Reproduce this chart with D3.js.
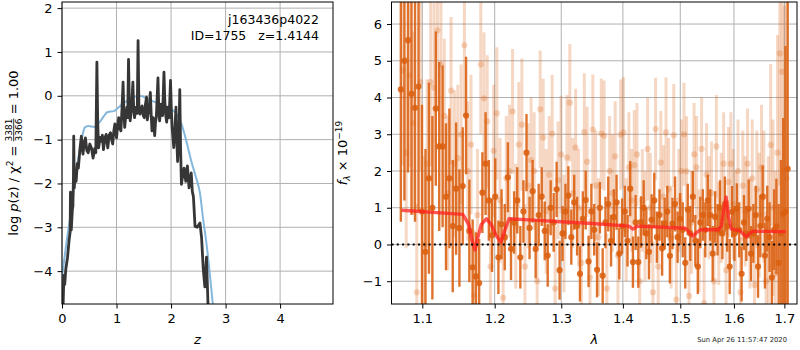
<!DOCTYPE html>
<html>
<head>
<meta charset="utf-8">
<script src="https://cdn.jsdelivr.net/npm/d3@7"></script>
<style>
body { margin: 0; background: #fff; }
svg { font-family: "DejaVu Sans", sans-serif; }
text { white-space: pre; }
</style>
</head>
<body>
<svg id="fig" width="800" height="350"></svg>
<script>
// ---- p(z) panel ----
const pzZ = [0.02,0.035,0.05,0.07,0.10,0.13,0.15,0.155,0.165,0.17,0.19,0.20,0.21,0.215,0.225,0.245,0.26,0.28,0.30,0.33,
  0.355,0.37,0.385,0.41,0.43,0.455,0.48,0.51,0.54,0.57,0.60,0.62,0.64,0.655,0.67,0.70,0.72,0.74,0.76,0.79,
  0.81,0.84,0.865,0.89,0.91,0.93,0.95,0.97,1.00,1.02,1.04,1.06,1.08,1.10,1.12,1.135,1.15,1.17,1.19,1.205,
  1.22,1.235,1.25,1.275,1.30,1.315,1.33,1.345,1.36,1.38,1.395,1.41,1.43,1.45,1.47,1.49,1.51,1.53,1.55,1.565,
  1.58,1.60,1.62,1.635,1.65,1.675,1.70,1.715,1.73,1.76,1.775,1.79,1.82,1.845,1.87,1.885,1.90,1.92,1.94,1.965,
  1.99,2.005,2.02,2.05,2.07,2.09,2.105,2.12,2.145,2.16,2.175,2.19,2.215,2.24,2.27,2.30,2.33,2.37,2.39,2.41,
  2.44,2.48,2.53,2.56,2.59,2.62,2.65,2.68];
const pzLog = [-4.8,-4.1,-4.3,-3.95,-3.7,-3.3,-3.1,-2.2,-2.6,-3.06,-2.6,-2.52,-1.83,-0.92,-2.1,-1.7,-1.95,-1.55,-1.65,-1.2,
  -0.92,-1.2,-1.33,-1.05,-0.96,-1.25,-1.3,-1.1,-1.19,-1.42,-1.2,-1.3,0.77,-0.6,-1.19,-0.95,-1.04,-0.9,-1.23,-0.95,
  -0.88,-1.19,-0.9,-0.84,-1.0,-1.1,-0.8,-0.64,-0.96,-0.7,-0.5,-0.75,-0.8,-0.3,0.31,-0.4,-0.72,-0.45,-0.26,-0.5,
  0.83,-0.2,-0.57,-0.3,0.31,-0.3,-0.5,-0.35,-0.26,-0.4,1.26,-0.2,-0.42,-0.3,-0.23,-0.45,-0.5,-0.2,-0.03,-0.55,
  -0.42,-0.3,0.08,-0.4,-0.8,-0.5,-0.91,-0.6,-0.49,0.41,-0.3,-0.57,-0.19,-0.45,0.54,-0.1,-0.42,-0.6,-0.26,-0.5,
  0.35,-0.3,-0.72,-1.18,-0.8,-0.26,-1.0,-1.5,-0.9,0.14,-1.2,-2.02,-1.8,-1.65,-1.95,-1.6,-2.1,-1.76,-2.18,-2.3,
  -2.98,-3.0,-2.9,-3.24,-3.94,-4.36,-3.68,-4.85];
const fitZ   = [0.0,0.08,0.17,0.23,0.29,0.355,0.42,0.48,0.59,0.69,0.84,0.95,1.05,1.21,1.425,1.61,1.86,2.1,2.19,2.28,2.37,2.45,2.53,2.59,2.65,2.71,2.77,2.8];
const fitLog = [-4.13,-3.37,-2.6,-2.02,-1.49,-1.04,-0.72,-0.69,-0.71,-0.6,-0.37,-0.35,-0.25,-0.1,0.0,-0.1,-0.22,-0.41,-0.64,-1.03,-1.49,-1.83,-2.22,-2.83,-3.37,-4.06,-4.8,-5.2];
const zTicks = [0,1,2,3,4];
const pTicks = [-4,-3,-2,-1,0,1,2];

// ---- spectrum panel ----
const lamDark = [1.0720,1.0766,1.0812,1.0858,1.0904,1.0950,1.0996,1.1042,1.1088,1.1134,
  1.1180,1.1226,1.1272,1.1318,1.1364,1.1410,1.1456,1.1502,1.1548,1.1594,
  1.1640,1.1686,1.1732,1.1778,1.1824,1.1870,1.1916,1.1962,1.2008,1.2054,
  1.2100,1.2146,1.2192,1.2238,1.2284,1.2330,1.2376,1.2422,1.2468,1.2514,
  1.2560,1.2606,1.2652,1.2698,1.2744,1.2790,1.2836,1.2882,1.2928,1.2974,
  1.3020,1.3066,1.3112,1.3158,1.3204,1.3250,1.3296,1.3342,1.3388,1.3434,
  1.3480,1.3526,1.3572,1.3618,1.3664,1.3710,1.3756,1.3802,1.3848,1.3894,
  1.3940,1.3986,1.4032,1.4078,1.4124,1.4170,1.4216,1.4262,1.4308,1.4354,
  1.4400,1.4446,1.4492,1.4538,1.4584,1.4630,1.4676,1.4722,1.4768,1.4814,
  1.4860,1.4906,1.4952,1.4998,1.5044,1.5090,1.5136,1.5182,1.5228,1.5274,
  1.5320,1.5366,1.5412,1.5458,1.5504,1.5550,1.5596,1.5642,1.5688,1.5734,
  1.5780,1.5826,1.5872,1.5918,1.5964,1.6010,1.6056,1.6102,1.6148,1.6194,
  1.6240,1.6286,1.6332,1.6378,1.6424,1.6470,1.6516,1.6562,1.6608,1.6654,
  1.6700,1.6746,1.6792,1.6838,1.6884,1.6930,1.6976,1.7022,1.7068];
const fluxDark = [4.22,5.0,5.56,4.1,3.72,4.3,0.9,-0.2,1.8,1.0,
  3.7,2.67,2.67,1.3,1.8,0.5,1.52,0.45,1.59,3.51,
  0.37,-0.62,-0.87,-1.05,1.41,2.2,1.2,0.25,1.3,-0.35,
  0.55,0.2,1.83,-0.12,0.6,1.2,-0.35,0.9,2.5,0.45,
  1.45,-0.12,0.8,1.3,0.37,-0.3,1.0,0.6,1.5,-0.7,
  0.3,0.9,1.33,0.2,1.15,0.5,-0.8,0.7,1.21,-0.46,
  0.9,0.4,-0.69,1.0,-0.85,0.6,1.1,0.1,0.75,1.15,
  -0.25,0.5,0.9,0.1,1.52,-0.48,0.6,-0.48,0.61,1.0,
  0.3,-0.2,0.67,1.2,0.2,0.8,-0.1,0.57,0.9,-0.31,
  0.57,1.1,0.2,0.7,0.4,-0.5,0.95,0.3,1.3,0.1,
  -0.6,0.6,0.8,0.4,1.2,0.8,-0.25,0.75,0.4,1.0,
  0.3,1.1,0.5,-0.6,0.89,0.3,0.97,0.4,-0.8,0.6,
  0.3,0.97,-0.25,0.3,0.8,-0.6,0.5,1.3,-0.3,0.7,
  0.2,-0.9,0.4,0.49,-0.5,0.3,0.84,0.9,2.06];
const errDark = [3.6,3.8,3.6,3.3,3.1,3.4,2.9,2.8,2.6,2.5,
  2.1,2.3,2.2,2.0,1.9,1.8,1.8,1.6,1.6,1.6,
  1.4,1.3,1.2,1.2,1.1,1.4,1.1,1.0,1.05,1.0,
  0.95,0.9,0.95,0.85,0.85,0.9,0.85,0.85,1.05,0.85,
  0.85,0.8,0.85,0.8,0.8,0.85,0.75,0.8,0.75,0.8,
  0.75,0.75,0.8,0.75,0.75,0.8,0.75,0.75,0.8,0.7,
  0.75,0.7,0.75,0.7,0.75,0.7,0.75,0.7,0.75,0.75,
  0.7,0.75,0.7,0.7,0.75,0.7,0.75,0.7,0.7,0.75,
  0.7,0.75,0.7,0.75,0.7,0.7,0.75,0.7,0.7,0.75,
  0.7,0.75,0.7,0.7,0.75,0.7,0.7,0.75,0.7,0.7,
  0.75,0.7,0.7,0.75,0.7,0.7,0.75,0.7,0.7,0.75,
  0.7,0.75,0.7,0.75,0.7,0.75,0.7,0.75,0.75,0.75,
  0.75,0.8,0.75,0.8,0.8,0.85,0.85,0.85,0.9,0.9,
  0.95,1.0,1.1,1.3,1.6,2.0,2.6,4.5,5.0];
const lamLight = [1.0743,1.0789,1.0835,1.0881,1.0927,1.0973,1.1019,1.1065,1.1111,1.1157,
  1.1203,1.1249,1.1295,1.1341,1.1387,1.1433,1.1479,1.1525,1.1571,1.1617,
  1.1663,1.1709,1.1755,1.1801,1.1847,1.1893,1.1939,1.1985,1.2031,1.2077,
  1.2123,1.2169,1.2215,1.2261,1.2307,1.2353,1.2399,1.2445,1.2491,1.2537,
  1.2583,1.2629,1.2675,1.2721,1.2767,1.2813,1.2859,1.2905,1.2951,1.2997,
  1.3043,1.3089,1.3135,1.3181,1.3227,1.3273,1.3319,1.3365,1.3411,1.3457,
  1.3503,1.3549,1.3595,1.3641,1.3687,1.3733,1.3779,1.3825,1.3871,1.3917,
  1.3963,1.4009,1.4055,1.4101,1.4147,1.4193,1.4239,1.4285,1.4331,1.4377,
  1.4423,1.4469,1.4515,1.4561,1.4607,1.4653,1.4699,1.4745,1.4791,1.4837,
  1.4883,1.4929,1.4975,1.5021,1.5067,1.5113,1.5159,1.5205,1.5251,1.5297,
  1.5343,1.5389,1.5435,1.5481,1.5527,1.5573,1.5619,1.5665,1.5711,1.5757,
  1.5803,1.5849,1.5895,1.5941,1.5987,1.6033,1.6079,1.6125,1.6171,1.6217,
  1.6263,1.6309,1.6355,1.6401,1.6447,1.6493,1.6539,1.6585,1.6631,1.6677,
  1.6723,1.6769,1.6815,1.6861,1.6907,1.6953,1.6999,1.7045];
const fluxLight = [4.74,2.5,4.6,3.3,-1.3,4.42,0.0,2.2,4.42,4.27,
  5.83,4.9,3.5,1.4,4.19,2.2,2.35,3.0,5.42,2.0,
  2.72,-1.4,0.8,4.9,3.98,3.35,-0.6,2.55,3.57,1.2,
  -1.45,1.8,2.0,3.62,0.5,2.72,3.26,-0.6,1.6,2.3,
  2.0,-1.0,3.68,2.91,0.9,1.9,3.02,-1.2,1.75,2.45,
  0.3,2.37,3.86,1.4,2.64,1.0,-0.5,3.06,2.25,-0.9,
  3.13,1.6,0.2,3.02,2.96,-1.2,2.0,1.4,2.4,-0.3,
  2.99,3.05,0.4,2.1,1.2,2.16,2.45,-1.0,1.2,0.5,
  2.6,1.0,-1.3,3.14,-0.6,2.23,1.3,3.05,1.5,0.2,
  2.97,-1.5,1.2,2.0,3.0,1.99,-1.4,0.6,2.45,2.1,
  0.1,2.6,-1.6,1.9,1.0,1.4,-1.0,2.67,0.3,1.0,
  2.2,-0.7,1.7,2.2,1.1,0.5,2.0,-1.3,1.6,0.9,
  2.2,0.3,1.8,-1.1,1.5,0.8,2.1,1.3,-1.0,0.4,
  2.71,1.0,-0.8,2.5,5.2,4.7,2.0,1.8];
const errLight = [2.6,2.6,2.5,2.5,2.4,2.4,2.4,2.3,2.3,2.3,
  2.2,2.2,2.1,2.1,2.0,2.0,2.0,1.9,1.9,1.9,
  1.9,1.8,1.8,1.9,1.8,1.8,1.8,1.8,1.8,1.7,
  1.7,1.7,1.8,1.7,1.7,1.7,1.8,1.7,1.7,1.7,
  1.6,1.7,1.6,1.6,1.7,1.6,1.6,1.7,1.6,1.6,
  1.6,1.7,1.6,1.5,1.6,1.6,1.5,1.6,1.5,1.6,
  1.5,1.5,1.6,1.5,1.5,1.5,1.5,1.6,1.5,1.5,
  1.5,1.5,1.4,1.5,1.4,1.5,1.4,1.5,1.4,1.5,
  1.4,1.5,1.4,1.4,1.5,1.4,1.4,1.5,1.4,1.4,
  1.4,1.5,1.4,1.4,1.4,1.5,1.4,1.4,1.4,1.4,
  1.4,1.4,1.5,1.4,1.4,1.4,1.5,1.4,1.4,1.5,
  1.4,1.5,1.5,1.4,1.5,1.5,1.4,1.5,1.5,1.5,
  1.5,1.5,1.6,1.6,1.6,1.7,1.7,1.8,1.9,2.0,
  2.2,2.4,2.8,3.2,3.6,4.0,4.5,5.0];
const modelLam  = [1.073,1.155,1.163,1.168,1.172,1.176,1.181,1.188,1.195,1.202,1.209,1.214,1.221,1.25,1.30,1.35,1.41,1.417,1.425,1.51,1.515,1.523,1.53,1.537,1.57,1.576,1.580,1.585,1.589,1.595,1.61,1.617,1.624,1.630,1.637,1.703];
const modelFlux = [0.93,0.82,0.55,0.1,-0.15,0.2,0.55,0.7,0.55,0.25,0.06,0.35,0.7,0.67,0.62,0.57,0.5,0.42,0.5,0.44,0.35,0.22,0.33,0.4,0.4,0.5,0.9,1.29,0.8,0.42,0.38,0.3,0.2,0.3,0.36,0.35];
const lamTicks = [1.1,1.2,1.3,1.4,1.5,1.6,1.7];
const fTicks = [-1,0,1,2,3,4,5,6];

const svg = d3.select("#fig");
const fontSize = 13;
const gridColor = "#b0b0b0";
const orange = "#db6010";

// axes boxes in pixels
const L = {x0: 62, x1: 333, y0: 2, y1: 304};
const R = {x0: 391.5, x1: 797, y0: 2, y1: 304};

const xz = d3.scaleLinear().domain([0, 4.97]).range([L.x0, L.x1]);
const yp = d3.scaleLinear().domain([-4.75, 2.14]).range([L.y1, L.y0]);
const xl = d3.scaleLog().domain([1.06, 1.726]).range([R.x0, R.x1]);
const yf = d3.scaleLinear().domain([-1.62, 6.6]).range([R.y1, R.y0]);

const defs = svg.append("defs");
[["clipL", L], ["clipR", R]].forEach(([id, b]) => {
  defs.append("clipPath").attr("id", id)
    .append("rect").attr("x", b.x0).attr("y", b.y0)
    .attr("width", b.x1 - b.x0).attr("height", b.y1 - b.y0);
});

// grid lines behind everything
function drawGrid(x, y, xt, yt, b) {
  const g = svg.append("g");
  g.selectAll(".gx").data(xt).join("line")
    .attr("x1", d => x(d)).attr("x2", d => x(d))
    .attr("y1", b.y0).attr("y2", b.y1)
    .attr("stroke", gridColor).attr("stroke-width", 1);
  g.selectAll(".gy").data(yt).join("line")
    .attr("x1", b.x0).attr("x2", b.x1)
    .attr("y1", d => y(d)).attr("y2", d => y(d))
    .attr("stroke", gridColor).attr("stroke-width", 1);
}
drawGrid(xz, yp, zTicks, pTicks, L);
drawGrid(xl, yf, lamTicks, fTicks, R);

// ---- left panel data
const gL = svg.append("g").attr("clip-path", "url(#clipL)");
gL.append("path")
  .datum(d3.zip(fitZ, fitLog))
  .attr("fill", "none").attr("stroke", "#84b7dc").attr("stroke-width", 2)
  .attr("d", d3.line().x(d => xz(d[0])).y(d => yp(d[1])).curve(d3.curveMonotoneX));
gL.append("path")
  .datum(d3.zip(pzZ, pzLog))
  .attr("fill", "none").attr("stroke", "#363636").attr("stroke-width", 2.8)
  .attr("stroke-linejoin", "round")
  .attr("d", d3.line().x(d => xz(d[0])).y(d => yp(d[1])));

// ---- right panel data
const gR = svg.append("g").attr("clip-path", "url(#clipR)");

// each bar and dot gets its own alpha, like matplotlib errorbar
function errorSeries(lam, flux, err, alpha, width) {
  const pts = d3.range(lam.length).map(i => ({l: lam[i], f: flux[i], e: err[i]}));
  const g = gR.append("g");
  g.selectAll("line").data(pts).join("line")
    .attr("x1", d => xl(d.l)).attr("x2", d => xl(d.l))
    .attr("y1", d => yf(d.f - d.e)).attr("y2", d => yf(d.f + d.e))
    .attr("stroke", orange).attr("stroke-opacity", alpha).attr("stroke-width", width);
  g.selectAll("circle").data(pts).join("circle")
    .attr("cx", d => xl(d.l)).attr("cy", d => yf(d.f))
    .attr("r", 3.1).attr("fill", orange).attr("fill-opacity", alpha);
}
errorSeries(lamLight, fluxLight, errLight, 0.25, 3);
errorSeries(lamDark, fluxDark, errDark, 0.88, 2.4);

gR.append("path")
  .datum(d3.zip(modelLam, modelFlux))
  .attr("fill", "none").attr("stroke", "#ff2020").attr("stroke-opacity", 0.75)
  .attr("stroke-width", 3.4).attr("stroke-linejoin", "round")
  .attr("d", d3.line().x(d => xl(d[0])).y(d => yf(d[1])));

gR.append("line")
  .attr("x1", R.x0).attr("x2", R.x1).attr("y1", yf(0)).attr("y2", yf(0))
  .attr("stroke", "#000").attr("stroke-width", 2).attr("stroke-dasharray", "2,3.3");

// ---- frames and axes
function drawAxes(x, y, xt, yt, b, fmtX) {
  svg.append("rect").attr("x", b.x0).attr("y", b.y0)
    .attr("width", b.x1 - b.x0).attr("height", b.y1 - b.y0)
    .attr("fill", "none").attr("stroke", "#000").attr("stroke-width", 1);
  const ax = svg.append("g").attr("transform", `translate(0,${b.y1})`)
    .call(d3.axisBottom(x).tickValues(xt).tickSize(4.5).tickPadding(5).tickFormat(fmtX));
  const ay = svg.append("g").attr("transform", `translate(${b.x0},0)`)
    .call(d3.axisLeft(y).tickValues(yt).tickSize(4.5).tickPadding(5).tickFormat(d3.format("d")));
  [ax, ay].forEach(a => {
    a.select(".domain").remove();
    a.selectAll("text").attr("font-size", fontSize).attr("font-family", "DejaVu Sans").attr("fill", "#000");
    a.selectAll("line").attr("stroke", "#000");
  });
}
drawAxes(xz, yp, zTicks, pTicks, L, d3.format("d"));
drawAxes(xl, yf, lamTicks, fTicks, R, d3.format(".1f"));

// ---- text
svg.append("text").attr("x", (L.x0 + L.x1) / 2).attr("y", 344)
  .attr("text-anchor", "middle").attr("font-size", fontSize).attr("font-style", "italic").text("z");
svg.append("text").attr("x", (R.x0 + R.x1) / 2).attr("y", 344)
  .attr("text-anchor", "middle").attr("font-size", fontSize).attr("font-style", "italic").text("λ");

svg.append("text").attr("x", 319).attr("y", 24).attr("text-anchor", "end")
  .attr("font-size", 12.5).text("j163436p4022");
svg.append("text").attr("x", 319).attr("y", 39.5).attr("text-anchor", "end")
  .attr("font-size", 12.5).text("ID=1755   z=1.4144");

svg.append("text").attr("x", 787).attr("y", 342).attr("text-anchor", "end")
  .attr("font-size", 6.8).attr("fill", "#222").text("Sun Apr 26 11:57:47 2020");

// rotated labels built from pieces so that sub/superscripts and the fraction fit
function richLabel(cx, cy, pieces) {
  const outer = svg.append("g").attr("transform", `translate(${cx},${cy}) rotate(-90)`);
  const g = outer.append("g");
  let x = 0;
  pieces.forEach(p => {
    if (p.frac) {
      const a = g.append("text").attr("x", x).attr("y", -5.2).attr("font-size", p.size).text(p.frac[0]);
      const b = g.append("text").attr("x", x).attr("y", 4.2).attr("font-size", p.size).text(p.frac[1]);
      const w = Math.max(a.node().getComputedTextLength(), b.node().getComputedTextLength());
      g.append("line").attr("x1", x).attr("x2", x + w).attr("y1", -3.8).attr("y2", -3.8)
        .attr("stroke", "#000").attr("stroke-width", 0.8);
      x += w;
    } else {
      const t = g.append("text").attr("x", x).attr("y", p.dy || 0)
        .attr("font-size", p.size || fontSize)
        .attr("font-style", p.italic ? "italic" : null).text(p.text);
      x += t.node().getComputedTextLength();
    }
  });
  g.attr("transform", `translate(${-x / 2},0)`);
}
richLabel(17.5, 153, [
  {text: "log "}, {text: "p", italic: true}, {text: "(z) / χ"},
  {text: "2", size: 9, dy: -5}, {text: " = "},
  {frac: ["3381", "3366"], size: 9}, {text: " = 1.00"}
]);
richLabel(347, 153, [
  {text: "f", italic: true}, {text: "λ", italic: true, size: 9, dy: 3},
  {text: " × 10"}, {text: "−19", size: 9, dy: -5}
]);
</script>
</body>
</html>
